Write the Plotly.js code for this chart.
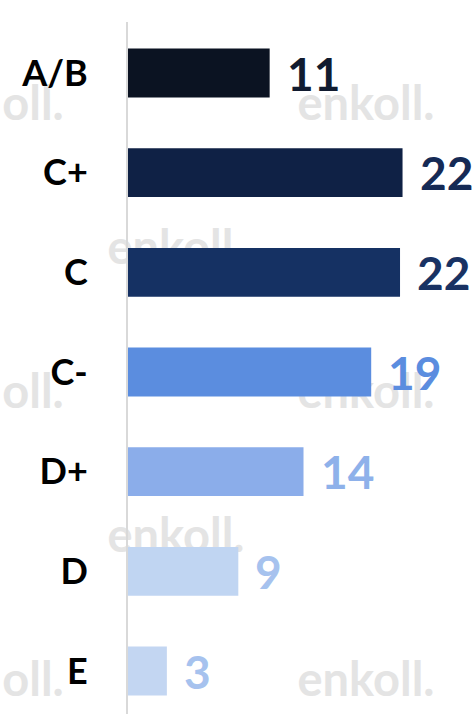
<!DOCTYPE html>
<html>
<head>
<meta charset="utf-8">
<script src="https://cdn.plot.ly/plotly-3.0.1.min.js"></script>
<style>html,body{margin:0;padding:0;background:#fff;}#chart{width:475px;height:714px;}</style>
</head>
<body>
<div id="chart"></div>
<script>
// ---- data ----
const categories = ["A/B", "C+", "C", "C-", "D+", "D", "E"];
const values = [11.3, 21.9, 21.7, 19.4, 14.0, 8.8, 3.1];
const valueLabels = ["11", "22", "22", "19", "14", "9", "3"];
const barColors = ["#0b1322", "#0f2145", "#153163", "#5b8ddf", "#8badea", "#c0d5f2", "#c3d6f2"];
const labelColors = ["#111b2f", "#152a55", "#193263", "#5b8ddf", "#8eb1ea", "#a6c2ee", "#a6c2ee"];

// watermark text (decoration), pixel-like coordinates on a hidden full-page background axis
const wmText = ["oll.", "enkoll.", "enkoll.", "oll.", "enkoll.", "enkoll.", "oll.", "enkoll."];
const wmX = [33, 366, 176, 33, 366, 176, 33, 366];
const wmY = [108, 108, 252, 396, 396, 540, 684, 684];

const watermark = {
  type: "scatter", mode: "text",
  x: wmX, y: wmY, text: wmText,
  xaxis: "x", yaxis: "y",
  textposition: "middle center",
  textfont: {family: "Lato, sans-serif", size: 47, weight: 700, color: "#e4e4e4"},
  hoverinfo: "skip", showlegend: false, cliponaxis: false
};

const bars = {
  type: "bar", orientation: "h",
  x: values, y: categories,
  xaxis: "x2", yaxis: "y2",
  marker: {color: barColors},
  hoverinfo: "skip", showlegend: false
};

const annotations = categories.map((c, i) => ({
  xref: "x2", yref: "y2", x: values[i], y: c,
  text: valueLabels[i], showarrow: false,
  xanchor: "left", yanchor: "middle", xshift: 15, yshift: 0,
  font: {family: "Lato, sans-serif", size: 46, weight: 700, color: labelColors[i]}
}));

const layout = {
  width: 475, height: 714,
  margin: {l: 0, r: 0, t: 0, b: 0, pad: 0},
  paper_bgcolor: "#ffffff", plot_bgcolor: "rgba(0,0,0,0)",
  showlegend: false,
  bargap: 0.51,
  xaxis: {domain: [0, 1], range: [0, 475], visible: false, fixedrange: true},
  yaxis: {domain: [0, 1], range: [714, 0], visible: false, fixedrange: true},
  xaxis2: {domain: [128 / 475, 1], anchor: "y2", range: [0, 27.68], visible: false, fixedrange: true},
  yaxis2: {
    domain: [0, 1 - 22 / 714], anchor: "x2", side: "left", type: "category",
    categoryorder: "array", categoryarray: categories,
    range: [6.431, -0.512],
    showline: true, linecolor: "#d9d9d9", linewidth: 2,
    showgrid: false, zeroline: false,
    ticks: "outside", ticklen: 0, tickcolor: "rgba(0,0,0,0)",
    ticklabelstandoff: 31,
    tickfont: {family: "Lato, sans-serif", size: 36, weight: 700, color: "#000000"},
    fixedrange: true
  },
  annotations: annotations
};

Plotly.newPlot("chart", [watermark, bars], layout, {staticPlot: true, displayModeBar: false});
</script>
</body>
</html>
